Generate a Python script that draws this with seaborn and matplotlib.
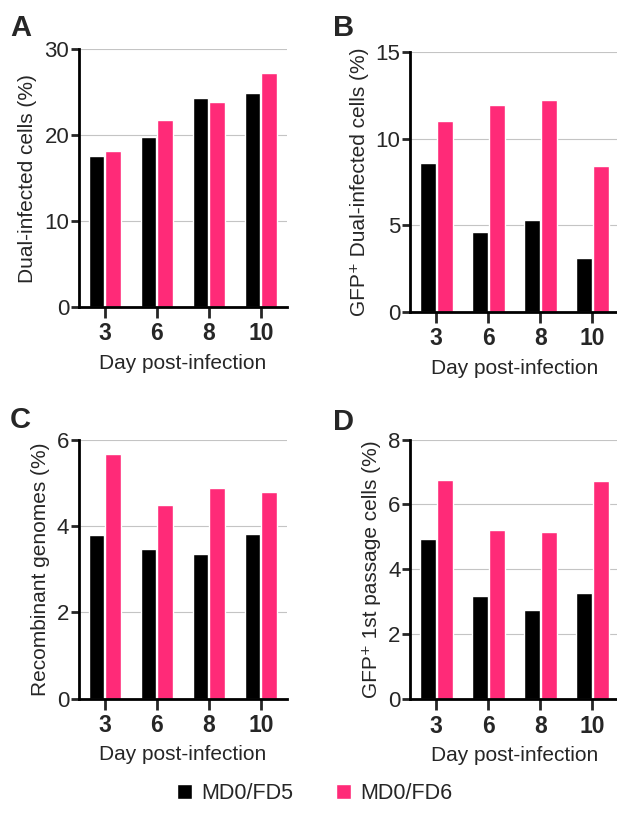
import pandas as pd
import matplotlib.pyplot as plt
import seaborn as sns
from matplotlib.patches import Patch

# Data
days = ["3", "6", "8", "10"]
groups = ["MD0/FD5", "MD0/FD6"]

dual_fd5 = [17.6, 19.8, 24.3, 24.9]
dual_fd6 = [18.1, 21.8, 23.9, 27.2]

gfp_dual_fd5 = [8.62, 4.64, 5.31, 3.14]
gfp_dual_fd6 = [11.06, 11.97, 12.27, 8.43]

recomb_fd5 = [3.81, 3.47, 3.37, 3.83]
recomb_fd6 = [5.69, 4.49, 4.89, 4.79]

passage_fd5 = [4.94, 3.18, 2.75, 3.27]
passage_fd6 = [6.76, 5.23, 5.16, 6.72]

colors = ["#000000", "#FF2A78"]

sns.set_theme(style="white")
plt.rcParams["font.family"] = ["Liberation Sans", "DejaVu Sans"]


def long_df(fd5, fd6):
    return pd.DataFrame({
        "day": days * 2,
        "group": [groups[0]] * 4 + [groups[1]] * 4,
        "value": fd5 + fd6,
    })


panels = [
    ("A", long_df(dual_fd5, dual_fd6), "Dual-infected cells (%)", 30, [0, 10, 20, 30]),
    ("B", long_df(gfp_dual_fd5, gfp_dual_fd6), "GFP\u207a Dual-infected cells (%)", 15, [0, 5, 10, 15]),
    ("C", long_df(recomb_fd5, recomb_fd6), "Recombinant genomes (%)", 6, [0, 2, 4, 6]),
    ("D", long_df(passage_fd5, passage_fd6), "GFP\u207a 1st passage cells (%)", 8, [0, 2, 4, 6, 8]),
]

# axes boxes in figure fractions [left, bottom, width, height]
boxes = [
    [0.128, 0.624, 0.337, 0.316],
    [0.665, 0.618, 0.337, 0.318],
    [0.128, 0.145, 0.337, 0.316],
    [0.665, 0.144, 0.337, 0.318],
]
letter_pos = [(0.016, 0.983), (0.540, 0.983), (0.016, 0.503), (0.540, 0.501)]

fig = plt.figure(figsize=(6.17, 8.17), dpi=100)

for (letter, df, ylabel, ymax, yticks), box, lp in zip(panels, boxes, letter_pos):
    ax = fig.add_axes(box)
    sns.barplot(data=df, x="day", y="value", hue="group", order=days,
                hue_order=groups, palette=colors, width=0.65, gap=0.06,
                saturation=1, legend=False, ax=ax)
    ax.set_ylim(0, ymax)
    ax.set_yticks(yticks)
    ax.set_xlim(-0.5, 3.5)
    ax.yaxis.grid(True, color="#C4C4C4", linewidth=0.8)
    ax.set_axisbelow(True)
    sns.despine(ax=ax)
    for s in ["left", "bottom"]:
        ax.spines[s].set_linewidth(2)
        ax.spines[s].set_color("black")
    ax.tick_params(axis="y", length=6, width=2, labelsize=16, pad=1, left=True)
    ax.tick_params(axis="x", length=8, width=2, labelsize=16.5, pad=3, bottom=True)
    for t in ax.get_xticklabels():
        t.set_fontweight("bold")
    ax.set_ylabel(ylabel, fontsize=15, labelpad=5)
    ax.set_xlabel("Day post-infection", fontsize=15, labelpad=6)
    fig.text(lp[0], lp[1], letter, fontsize=21, fontweight="bold", va="top", ha="left")

handles = [Patch(facecolor=c, label=g) for c, g in zip(colors, groups)]
fig.legend(handles=handles, loc="center", bbox_to_anchor=(0.51, 0.029), ncol=2,
           frameon=False, fontsize=15.5, handlelength=0.7, handleheight=0.7,
           handletextpad=0.4, columnspacing=2.0)

fig.savefig("out.png", dpi=100)
